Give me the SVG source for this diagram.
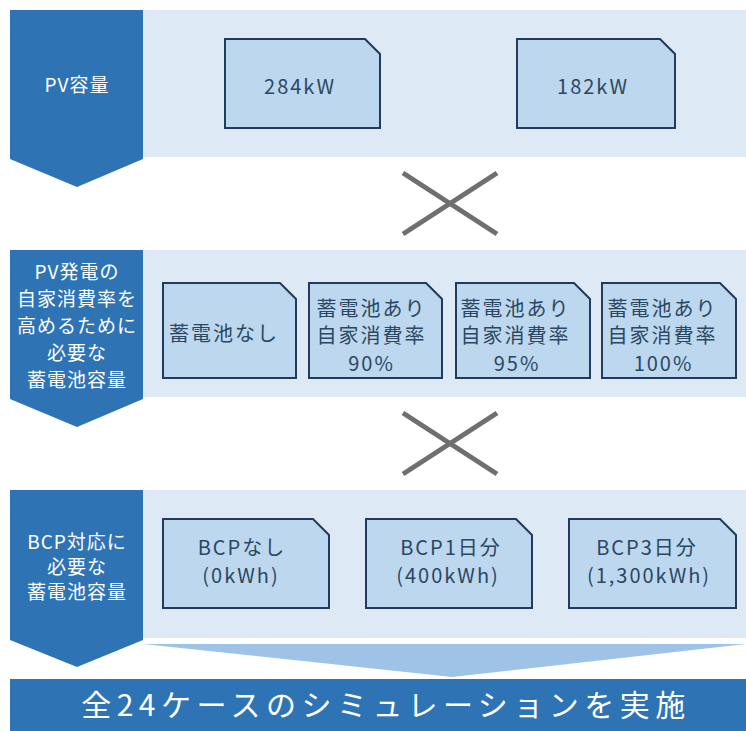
<svg xmlns="http://www.w3.org/2000/svg" width="746" height="731" viewBox="0 0 746 731">
<style>
.band{fill:#dde9f5}
.dark{fill:#2e74b5}
.box{fill:#bdd7ee;stroke:#1f3c5c;stroke-width:2}
.cross{stroke:#6f6f6f;stroke-width:5;stroke-linecap:butt}
.lbl{font-family:"Noto Sans CJK JP","Noto Sans",sans-serif;fill:#ffffff;font-size:19px;text-anchor:middle;letter-spacing:1px}
.bt{font-family:"Noto Sans CJK JP","Noto Sans",sans-serif;fill:#2b4763;font-size:20px;text-anchor:middle;letter-spacing:2px}
.big{font-family:"Noto Sans CJK JP","Noto Sans",sans-serif;fill:#ffffff;font-size:30px;text-anchor:middle;letter-spacing:5.5px}
</style>
<rect width="746" height="731" fill="#ffffff"/>
<g id="row1">
<rect class="band" x="143" y="10" width="603" height="147"/>
<polygon class="dark" points="10,10 143,10 143,159 77,187 10,159"/>
<text class="lbl" x="77" y="92" font-size="21">PV容量</text>
</g>
<g id="pv284">
<path class="box" d="M225,39 H365 L380,54 V128 H225 Z"/>
<text class="bt" x="300" y="94" font-size="23">284kW</text>
</g>
<g id="pv182">
<path class="box" d="M517,39 H660 L675,54 V128 H517 Z"/>
<text class="bt" x="593" y="94" font-size="23">182kW</text>
</g>
<g id="row2">
<rect class="band" x="143" y="250" width="603" height="147"/>
<polygon class="dark" points="10,250 143,250 143,399 77,427 10,399"/>
<text class="lbl"><tspan x="77" y="279">PV発電の</tspan><tspan x="77" y="306">自家消費率を</tspan><tspan x="77" y="333">高めるために</tspan><tspan x="77" y="360">必要な</tspan><tspan x="77" y="387">蓄電池容量</tspan></text>
</g>
<g id="bat0">
<path class="box" d="M163,283 H280 L296,299 V378 H163 Z"/>
<text class="bt" x="224" y="341">蓄電池なし</text>
</g>
<g id="bat90">
<path class="box" d="M309,283 H426 L442,299 V378 H309 Z"/>
<text class="bt" font-size="19" letter-spacing="3"><tspan x="371.5" y="316">蓄電池あり</tspan><tspan x="371.5" y="343">自家消費率</tspan><tspan x="371.5" y="371">90%</tspan></text>
</g>
<g id="bat95">
<path class="box" d="M456,283 H574 L590,299 V378 H456 Z"/>
<text class="bt" font-size="19" letter-spacing="3"><tspan x="515.5" y="316">蓄電池あり</tspan><tspan x="515.5" y="343">自家消費率</tspan><tspan x="517" y="371">95%</tspan></text>
</g>
<g id="bat100">
<path class="box" d="M602,283 H720 L736,299 V378 H602 Z"/>
<text class="bt" font-size="19" letter-spacing="3"><tspan x="662.5" y="316">蓄電池あり</tspan><tspan x="662.5" y="343">自家消費率</tspan><tspan x="663.5" y="371">100%</tspan></text>
</g>
<g id="row3">
<rect class="band" x="143" y="490" width="603" height="148"/>
<polygon class="dark" points="10,490 143,490 143,640 77,667 10,640"/>
<text class="lbl"><tspan x="77" y="549">BCP対応に</tspan><tspan x="77" y="574">必要な</tspan><tspan x="77" y="599">蓄電池容量</tspan></text>
</g>
<g id="bcp0">
<path class="box" d="M163,519 H313 L329,535 V608 H163 Z"/>
<text class="bt" font-size="19" letter-spacing="1.5"><tspan x="242" y="555">BCPなし</tspan><tspan x="241" y="583">(0kWh)</tspan></text>
</g>
<g id="bcp1">
<path class="box" d="M366,519 H516 L532,535 V608 H366 Z"/>
<text class="bt" font-size="19" letter-spacing="1.5"><tspan x="451" y="555">BCP1日分</tspan><tspan x="448" y="583">(400kWh)</tspan></text>
</g>
<g id="bcp3">
<path class="box" d="M569,519 H720 L736,535 V608 H569 Z"/>
<text class="bt" font-size="19" letter-spacing="1.5"><tspan x="647" y="555">BCP3日分</tspan><tspan x="649" y="583">(1,300kWh)</tspan></text>
</g>
<g id="connectors">
<line class="cross" x1="403" y1="173" x2="497" y2="234"/>
<line class="cross" x1="497" y1="173" x2="403" y2="234"/>
<line class="cross" x1="403" y1="413" x2="497" y2="474"/>
<line class="cross" x1="497" y1="413" x2="403" y2="474"/>
<polygon points="143,644 746,644 452,677" fill="#9fc3e6"/>
</g>
<g id="result">
<rect class="dark" x="10" y="679" width="736" height="52"/>
<text class="big" x="386" y="716">全24ケースのシミュレーションを実施</text>
</g>
</svg>
